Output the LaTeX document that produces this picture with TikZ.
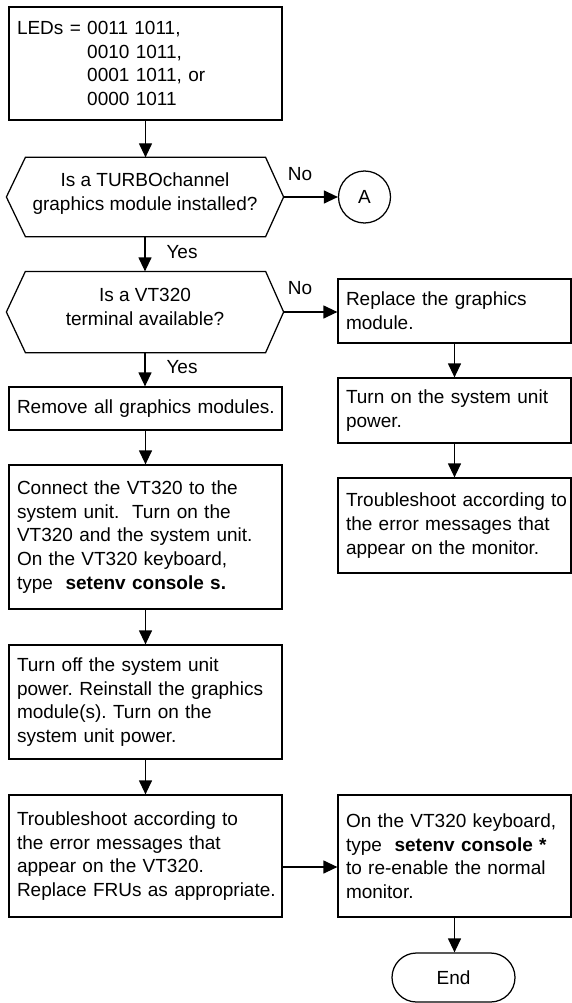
\documentclass[tikz,border=0pt]{standalone}
\usepackage{fontspec}
\setmainfont{Liberation Sans}
\usetikzlibrary{arrows.meta,shapes.misc}
\newcommand\nb[1]{\mbox{#1}}
\newcommand\dectext[2]{\raisebox{3pt}[\height][\depth]{\begin{tabular}{@{}c@{}}#1\\#2\end{tabular}}}
\frenchspacing
\begin{document}
\begin{tikzpicture}[x=1pt,y=-1pt, line width=1.25pt,
  arr/.style={-{Triangle[length=14pt,width=13pt]}},
  every node/.style={font=\fontsize{19}{23.6}\selectfont},
  lbox/.style={draw, minimum width=273pt, text width=257pt, inner xsep=8pt, inner ysep=0pt, align=left},
  rbox/.style={draw, minimum width=233pt, text width=217pt, inner xsep=8pt, inner ysep=0pt, align=left},
  dec/.style={minimum width=276pt, inner sep=0pt, align=center},
  lbl/.style={inner sep=0pt}]
\useasboundingbox (0,0) rectangle (572,1003);

% left column
\node[lbox, minimum height=113pt] (b1) at (145.5,63.5)
  {\nb{LEDs = 0011 1011,}\\\nb{\hphantom{LEDs = }0010 1011,}\\\nb{\hphantom{LEDs = }0001 1011, or}\\\nb{\hphantom{LEDs = }0000 1011}};

\node[dec, minimum height=78pt] (d1) at (145,197) {\dectext{Is a TURBOchannel}{graphics module installed?}};
\draw (d1.west) -- ([xshift=19pt]d1.north west) -- ([xshift=-18pt]d1.north east) -- (d1.east)
  -- ([xshift=-18pt]d1.south east) -- ([xshift=19pt]d1.south west) -- cycle;

\node[draw, circle, minimum size=52pt, inner sep=0pt] (A) at (364.5,197) {A};

\node[dec, minimum height=80pt] (d2) at (145,312) {\dectext{Is a VT320}{terminal available?}};
\draw (d2.west) -- ([xshift=19pt]d2.north west) -- ([xshift=-18pt]d2.north east) -- (d2.east)
  -- ([xshift=-18pt]d2.south east) -- ([xshift=19pt]d2.south west) -- cycle;

\node[lbox, minimum height=43pt] (b2) at (145.5,408.5) {\nb{Remove all graphics modules.}};
\node[lbox, minimum height=144pt] (b3) at (145.5,537)
  {\nb{Connect the VT320 to the}\\\nb{system unit.\ \ Turn on the}\\\nb{VT320 and the system unit.}\\\nb{On the VT320 keyboard,}\\\nb{type\ \ \textbf{setenv console s.}}};
\node[lbox, minimum height=114pt] (b4) at (145.5,702)
  {\nb{Turn off the system unit}\\\nb{power. Reinstall the graphics}\\\nb{module(s). Turn on the}\\\nb{system unit power.}};
\node[lbox, minimum height=122pt] (b5) at (145.5,856)
  {\nb{Troubleshoot according to}\\\nb{the error messages that}\\\nb{appear on the VT320.}\\\nb{Replace FRUs as appropriate.}};

% right column
\node[rbox, minimum height=64pt] (r1) at (454.5,311) {\nb{Replace the graphics}\\\nb{module.}};
\node[rbox, minimum height=65pt] (r2) at (454.5,410.5) {\nb{Turn on the system unit}\\\nb{power.}};
\node[rbox, minimum height=95pt] (r3) at (454.5,525.5)
  {\nb{Troubleshoot according to}\\\nb{the error messages that}\\\nb{appear on the monitor.}};
\node[rbox, minimum height=122pt] (r4) at (454.5,856)
  {\nb{On the VT320 keyboard,}\\\nb{type\ \ \textbf{setenv console *}}\\\nb{to re-enable the normal}\\\nb{monitor.}};
\node[draw, rounded rectangle, minimum width=123pt, minimum height=49pt, inner sep=0pt] (end) at (453.5,977.5) {End};

% labels
\node[lbl] (no1) at (300,174) {No};
\node[lbl] (yes1) at (182,252) {Yes};
\node[lbl] (no2) at (300,288) {No};
\node[lbl] (yes2) at (182,367) {Yes};

% connectors
\draw[arr] (b1.south) -- (b1.south |- d1.north);
\draw[arr] (d1.east) -- (A.west);
\draw[arr] (d1.south) -- (d1.south |- d2.north);
\draw[arr] (d2.east) -- (d2.east -| r1.west);
\draw[arr] (d2.south) -- (d2.south |- b2.north);
\draw[arr] (b2.south) -- (b3.north);
\draw[arr] (b3.south) -- (b4.north);
\draw[arr] (b4.south) -- (b5.north);
\draw[arr] ([yshift=-11pt]b5.east) -- ([yshift=-11pt]r4.west);
\draw[arr] (r1.south) -- (r2.north);
\draw[arr] (r2.south) -- (r3.north);
\draw[arr] (r4.south) -- (r4.south |- end.north);
\end{tikzpicture}
\end{document}
